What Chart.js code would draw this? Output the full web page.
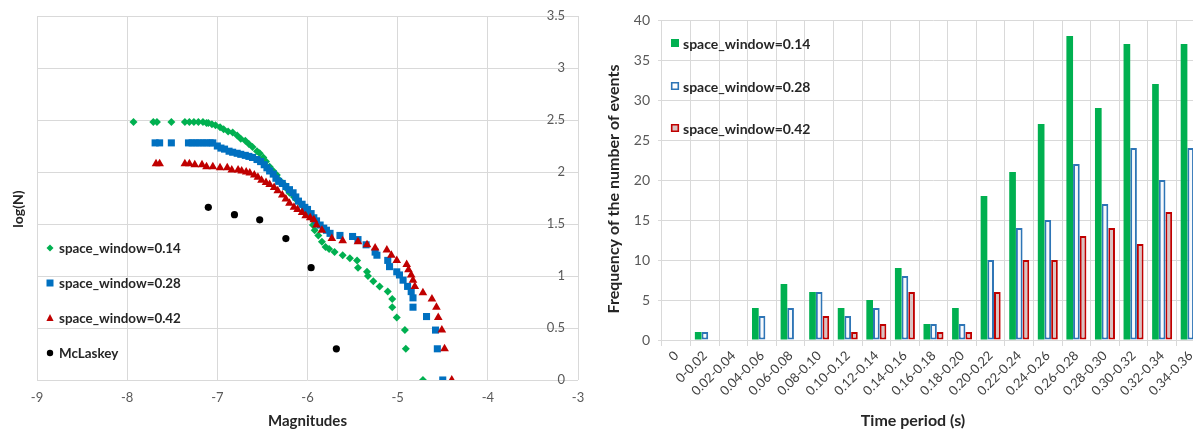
<!DOCTYPE html>
<html><head><meta charset="utf-8">
<script src="https://cdn.jsdelivr.net/npm/chart.js@4.4.1/dist/chart.umd.min.js"></script>
<style>
html,body{margin:0;padding:0;background:#fff;overflow:hidden;width:1193px;height:430px;}
#left{position:absolute;left:0;top:0;width:600px;height:430px;}
#rightWrap{position:absolute;left:600px;top:0;width:593px;height:430px;overflow:hidden;}
#right{position:absolute;left:0;top:0;width:620px;height:430px;}
</style></head><body>
<div id="left"><canvas id="c1"></canvas></div>
<div id="rightWrap"><div id="right"><canvas id="c2"></canvas></div></div>
<script>
// ---------- Left chart data (Magnitude vs log(N)) ----------
const sw014Mag = [-7.93,-7.71,-7.67,-7.51,-7.36,-7.31,-7.26,-7.21,-7.16,-7.12,
  -7.10,-7.06,-7.02,-6.97,-6.93,-6.88,-6.83,-6.78,-6.74,-6.69,-6.65,-6.61,-6.56,-6.53,-6.49,-6.46,-6.42,-6.38,-6.34,-6.31,-6.27,-6.23,-6.20,-6.15,-6.12,-6.08,-6.04,-6.01,-5.97,-5.95,-5.94,-5.92,-5.88,-5.84,-5.80,
  -5.76,-5.70,-5.61,-5.53,-5.45,-5.44,-5.34,-5.33,-5.27,-5.20,-5.11,-5.06,-5.06,-5.01,-4.92,-4.91,-4.72];
const sw014LogN = [2.48,2.48,2.48,2.48,2.48,2.48,2.48,2.48,2.48,2.47,
  2.47,2.46,2.45,2.43,2.41,2.39,2.38,2.35,2.32,2.30,2.27,2.24,2.20,2.18,2.14,2.10,2.05,2.01,1.97,1.92,1.89,1.84,1.80,1.76,1.73,1.70,1.66,1.64,1.60,1.55,1.49,1.44,1.39,1.33,1.28,
  1.26,1.23,1.20,1.17,1.15,1.08,1.04,1.00,0.95,0.90,0.85,0.78,0.70,0.60,0.48,0.30,0];

const sw028Mag = [-7.69,-7.64,-7.51,-7.32,-7.28,-7.24,-7.20,-7.16,-7.12,-7.08,
  -7.05,-7.00,-6.96,-6.92,-6.87,-6.83,-6.78,-6.74,-6.69,-6.65,-6.61,-6.56,-6.52,-6.48,-6.45,-6.42,-6.38,-6.35,-6.32,-6.28,-6.24,-6.20,-6.16,-6.13,-6.10,-6.06,-6.03,-6.00,-5.96,-5.93,-5.90,-5.86,-5.82,
  -5.79,-5.75,-5.64,-5.50,-5.44,-5.35,-5.25,-5.23,-5.11,-5.09,-5.01,-4.98,-4.94,-4.89,-4.85,-4.83,-4.83,-4.68,-4.58,-4.56,-4.50];
const sw028LogN = [2.28,2.28,2.28,2.28,2.28,2.28,2.28,2.28,2.28,2.28,
  2.28,2.25,2.23,2.22,2.20,2.19,2.18,2.17,2.16,2.15,2.14,2.12,2.10,2.07,2.04,2.01,1.98,1.94,1.91,1.89,1.86,1.83,1.80,1.76,1.72,1.69,1.66,1.64,1.60,1.56,1.53,1.49,1.46,
  1.44,1.41,1.39,1.38,1.35,1.30,1.23,1.20,1.15,1.09,1.04,1.01,0.96,0.90,0.85,0.79,0.70,0.61,0.48,0.30,0];

const sw042Mag = [-7.68,-7.64,-7.36,-7.31,-7.25,-7.17,-7.12,-7.05,-6.97,-6.89,-6.84,
  -6.77,-6.73,-6.68,-6.64,-6.59,-6.55,-6.51,-6.46,-6.42,-6.37,-6.33,-6.28,-6.24,-6.20,-6.15,-6.11,-6.06,-6.02,-5.97,-5.93,-5.90,
  -5.84,-5.73,-5.61,-5.44,-5.34,-5.25,-5.12,-5.07,-5.01,-4.90,-4.88,-4.85,-4.83,-4.81,-4.72,-4.62,-4.57,-4.55,-4.51,-4.48,-4.40];
const sw042LogN = [2.08,2.08,2.08,2.08,2.07,2.07,2.05,2.05,2.04,2.04,2.02,
  2.02,2.01,2.00,1.99,1.97,1.95,1.92,1.90,1.88,1.85,1.82,1.78,1.74,1.70,1.66,1.64,1.61,1.58,1.56,1.54,1.49,
  1.44,1.36,1.34,1.33,1.30,1.27,1.25,1.20,1.15,1.11,1.06,1.01,0.96,0.90,0.84,0.78,0.70,0.60,0.48,0.30,0];

const mclaskeyMag = [-7.10,-6.81,-6.53,-6.24,-5.96,-5.68];
const mclaskeyLogN = [1.66,1.59,1.54,1.36,1.08,0.30];

const magTicks = [-9,-8,-7,-6,-5,-4,-3];
const logTicks = [0,0.5,1,1.5,2,2.5,3,3.5];

// ---------- Right chart data (frequency per time period) ----------
const timePeriods = ['0','0-0.02','0.02-0.04','0.04-0.06','0.06-0.08','0.08-0.10','0.10-0.12','0.12-0.14','0.14-0.16','0.16-0.18','0.18-0.20','0.20-0.22','0.22-0.24','0.24-0.26','0.26-0.28','0.28-0.30','0.30-0.32','0.32-0.34','0.34-0.36'];
const freq014 = [0,1,0,4,7,6,4,5,9,2,4,18,21,27,38,29,37,32,37];
const freq028 = [0,1,0,3,4,6,3,4,8,2,2,10,14,15,22,17,24,20,24];
const freq042 = [0,0,0,0,0,3,1,2,6,1,1,6,10,10,13,14,12,16,16];
const freqTicks = [0,5,10,15,20,25,30,35,40];

const seriesNames = ['space_window=0.14','space_window=0.28','space_window=0.42','McLaskey'];

const FONT = 'Lato, "Open Sans", "DejaVu Sans", sans-serif';
Chart.defaults.font.family = FONT;
const GRID = '#d9d9d9';
const TICKC = '#595959';
const TITLEC = '#262626';

const pts = (xs, ys) => xs.map((x, i) => ({x, y: ys[i]}));

function drawMarker(ctx, style, x, y, r, fill, stroke, lw) {
  ctx.beginPath();
  if (style === 'diamond') {
    ctx.moveTo(x, y - r); ctx.lineTo(x + r, y); ctx.lineTo(x, y + r); ctx.lineTo(x - r, y); ctx.closePath();
  } else if (style === 'square') {
    ctx.rect(x - r, y - r, 2 * r, 2 * r);
  } else if (style === 'triangle') {
    ctx.moveTo(x, y - r); ctx.lineTo(x + r * 0.9, y + r * 0.75); ctx.lineTo(x - r * 0.9, y + r * 0.75); ctx.closePath();
  } else {
    ctx.arc(x, y, r, 0, Math.PI * 2);
  }
  if (fill) { ctx.fillStyle = fill; ctx.fill(); }
  if (stroke) { ctx.strokeStyle = stroke; ctx.lineWidth = lw || 1.5; ctx.stroke(); }
}

function rotatedText(ctx, text, x, y, font) {
  ctx.save();
  ctx.fillStyle = TITLEC;
  ctx.font = font;
  ctx.translate(x, y);
  ctx.rotate(-Math.PI / 2);
  ctx.textAlign = 'center';
  ctx.textBaseline = 'middle';
  ctx.fillText(text, 0, 0);
  ctx.restore();
}

const leftExtras = {
  id: 'leftExtras',
  afterDraw(chart) {
    const ctx = chart.ctx;
    rotatedText(ctx, 'log(N)', 18, 209, 'bold 14px ' + FONT);
    ctx.save();
    const ys = [248, 283, 318, 353];
    const styles = [['diamond', '#00B050', 3.5], ['square', '#0070C0', 3.5], ['triangle', '#C00000', 4], ['circle', '#000000', 3.2]];
    ctx.font = 'bold 13.4px ' + FONT;
    ctx.textAlign = 'left';
    ctx.textBaseline = 'middle';
    seriesNames.forEach((name, i) => {
      drawMarker(ctx, styles[i][0], 50, ys[i], styles[i][2], styles[i][1]);
      ctx.fillStyle = TITLEC;
      ctx.fillText(name, 59, ys[i] + 1);
    });
    ctx.restore();
  }
};

new Chart(document.getElementById('c1'), {
  type: 'scatter',
  data: {
    datasets: [
      {label: seriesNames[0], data: pts(sw014Mag, sw014LogN), pointStyle: 'rectRot', pointRadius: 4, backgroundColor: '#00B050', borderWidth: 0, order: 4},
      {label: seriesNames[1], data: pts(sw028Mag, sw028LogN), pointStyle: 'rect', pointRadius: 5, backgroundColor: '#0070C0', borderWidth: 0, order: 3},
      {label: seriesNames[2], data: pts(sw042Mag, sw042LogN), pointStyle: 'triangle', pointRadius: 5, backgroundColor: '#C00000', borderWidth: 0, order: 2},
      {label: seriesNames[3], data: pts(mclaskeyMag, mclaskeyLogN), pointStyle: 'circle', pointRadius: 3.6, backgroundColor: '#000000', borderWidth: 0, order: 1}
    ]
  },
  options: {
    responsive: true, maintainAspectRatio: false, animation: false,
    layout: {padding: {left: 37, right: 22, top: 16, bottom: 0}},
    plugins: {legend: {display: false}, tooltip: {enabled: false}},
    scales: {
      x: {
        type: 'linear', min: magTicks[0], max: magTicks[magTicks.length - 1],
        afterBuildTicks(s) { s.ticks = magTicks.map(v => ({value: v})); },
        ticks: {color: TICKC, font: {size: 13}, padding: 10, callback: v => String(v)},
        grid: {color: GRID, drawTicks: false},
        border: {display: false},
        title: {display: true, text: 'Magnitudes', color: TITLEC, font: {size: 15, weight: 'bold'}, padding: {top: 0, bottom: 0}},
        afterFit(s) { s.height = 50; }
      },
      y: {
        position: 'right', min: logTicks[0], max: logTicks[logTicks.length - 1],
        afterBuildTicks(s) { s.ticks = logTicks.map(v => ({value: v})); },
        ticks: {mirror: true, padding: -13, color: TICKC, font: {size: 13}, callback: v => String(v)},
        grid: {color: GRID, drawTicks: false},
        border: {display: false},
        afterFit(s) { s.width = 0; }
      }
    }
  },
  plugins: [leftExtras]
});

// ---------- Right chart ----------
const rightExtras = {
  id: 'rightExtras',
  afterDraw(chart) {
    const ctx = chart.ctx;
    rotatedText(ctx, 'Frequency of the number of events', 14, 189, 'bold 16px ' + FONT);
    ctx.save();
    ctx.font = 'bold 16px ' + FONT;
    ctx.fillStyle = TITLEC;
    ctx.textAlign = 'center';
    ctx.textBaseline = 'middle';
    ctx.fillText('Time period (s)', 313, 421);
    ctx.textAlign = 'left';
    ctx.font = 'bold 14px ' + FONT;
    const ys = [43, 86, 128];
    const fills = ['#00B050', '#FFFFFF', '#D8C3C3'];
    const strokes = [null, '#2E75B6', '#C00000'];
    for (let i = 0; i < 3; i++) {
      drawMarker(ctx, 'square', 75, ys[i], strokes[i] ? 3.3 : 4, fills[i], strokes[i], 1.6);
      ctx.fillStyle = TITLEC;
      ctx.fillText(seriesNames[i], 83, ys[i] + 1);
    }
    ctx.restore();
  }
};

new Chart(document.getElementById('c2'), {
  type: 'bar',
  data: {
    labels: timePeriods,
    datasets: [
      {label: seriesNames[0], data: freq014, backgroundColor: '#00B050', borderWidth: 0},
      {label: seriesNames[1], data: freq028, backgroundColor: '#F7F9FC', borderColor: '#2E75B6', borderWidth: 2, borderSkipped: false},
      {label: seriesNames[2], data: freq042, backgroundColor: '#D8C3C3', borderColor: '#C00000', borderWidth: 2, borderSkipped: false}
    ]
  },
  options: {
    responsive: true, maintainAspectRatio: false, animation: false,
    layout: {padding: {left: 0, right: 15, top: 20, bottom: 0}},
    datasets: {bar: {categoryPercentage: 0.7, barPercentage: 1.0}},
    plugins: {legend: {display: false}, tooltip: {enabled: false}},
    scales: {
      x: {
        grid: {color: GRID, offset: true, tickLength: 6},
        border: {display: false},
        ticks: {minRotation: 45, maxRotation: 45, autoSkip: false, color: '#404040', font: {size: 13}, padding: 2},
        afterFit(s) { s.height = 90; }
      },
      y: {
        min: freqTicks[0], max: freqTicks[freqTicks.length - 1],
        afterBuildTicks(s) { s.ticks = freqTicks.map(v => ({value: v})); },
        ticks: {color: TICKC, font: {size: 14}, padding: 8},
        grid: {color: GRID, tickLength: 4},
        border: {display: false},
        afterFit(s) { s.width = 62; }
      }
    }
  },
  plugins: [rightExtras]
});
</script>
</body></html>
